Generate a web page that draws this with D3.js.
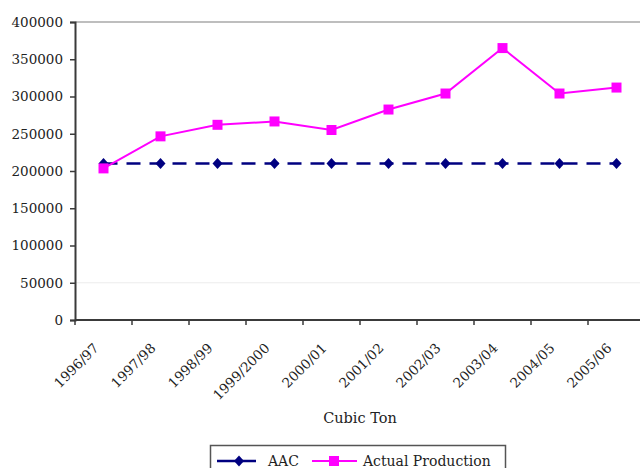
<!DOCTYPE html>
<html>
<head>
<meta charset="utf-8">
<script src="https://cdn.jsdelivr.net/npm/d3@7"></script>
<style>
  html, body { margin: 0; padding: 0; background: #fff; }
  svg { display: block; }
  text { font-family: "DejaVu Serif", serif; fill: #222; }
</style>
</head>
<body>
<svg id="chart" width="640" height="468"></svg>
<script>
// Harvest years
const years = ["1996/97", "1997/98", "1998/99", "1999/2000", "2000/01",
               "2001/02", "2002/03", "2003/04", "2004/05", "2005/06"];
// Allowable annual cut (cubic ton)
const aac = [210000, 210000, 210000, 210000, 210000, 210000, 210000, 210000, 210000, 210000];
// Actual production (cubic ton)
const actual = [203500, 246500, 262000, 266500, 255000, 282500, 304000, 365000, 304000, 312000];
const yTicks = [0, 50000, 100000, 150000, 200000, 250000, 300000, 350000, 400000];

const FONT = "\"DejaVu Serif\", serif";
const svg = d3.select("#chart");
const plotLeft = 75, plotRight = 645, plotTop = 22, plotBottom = 320;

const x = d3.scaleBand().domain(years).range([plotLeft, plotRight]);
const cx = d => x(d) + x.bandwidth() / 2;
const y = d3.scaleLinear().domain([0, 400000]).range([plotBottom, plotTop]);

// light gridline and top frame
svg.append("line").attr("x1", plotLeft).attr("x2", 640)
  .attr("y1", y(50000)).attr("y2", y(50000))
  .attr("stroke", "#ececec").attr("stroke-width", 1);
svg.append("line").attr("x1", plotLeft).attr("x2", 640)
  .attr("y1", y(400000)).attr("y2", y(400000))
  .attr("stroke", "#a8a8a8").attr("stroke-width", 1.5);

// y axis
const yAxis = svg.append("g").attr("transform", `translate(${plotLeft},0)`)
  .call(d3.axisLeft(y).tickValues(yTicks).tickFormat(d3.format("d")).tickSize(5).tickPadding(7));
yAxis.attr("font-family", FONT);
yAxis.select(".domain").attr("stroke", "#3a3a3a").attr("stroke-width", 2);
yAxis.selectAll(".tick line").attr("stroke", "#3a3a3a").attr("stroke-width", 1.5);
yAxis.selectAll(".tick text").attr("font-size", 13.5).attr("fill", "#222");

// x axis: line, ticks at category boundaries, rotated labels
svg.append("line").attr("x1", plotLeft).attr("x2", 640).attr("y1", plotBottom).attr("y2", plotBottom)
  .attr("stroke", "#3a3a3a").attr("stroke-width", 2);
svg.append("g").selectAll("line").data(years).join("line")
  .attr("x1", d => x(d)).attr("x2", d => x(d))
  .attr("y1", plotBottom).attr("y2", plotBottom + 5)
  .attr("stroke", "#3a3a3a").attr("stroke-width", 1.5);
svg.append("g").attr("font-family", FONT).selectAll("text").data(years).join("text")
  .attr("text-anchor", "end")
  .attr("font-size", 13.5)
  .attr("transform", d => `translate(${cx(d) - 4},${plotBottom + 29}) rotate(-45)`)
  .text(d => d);

// axis title
svg.append("text").attr("x", 360).attr("y", 423).attr("text-anchor", "middle")
  .attr("font-family", FONT).attr("font-size", 14.5).text("Cubic Ton");

// marker shapes
const diamondPath = "M0,-5.5L5,0L0,5.5L-5,0Z";
const squarePath = d3.symbol().type(d3.symbolSquare).size(100)();

// AAC series
const lineGen = d3.line().x((d, i) => cx(years[i])).y(d => y(d));
svg.append("path").datum(aac).attr("d", lineGen)
  .attr("fill", "none").attr("stroke", "#000080").attr("stroke-width", 2.5)
  .attr("stroke-dasharray", "14,9");
svg.append("g").selectAll("path").data(aac).join("path")
  .attr("d", diamondPath).attr("fill", "#000080")
  .attr("transform", (d, i) => `translate(${cx(years[i])},${y(d)})`);

// Actual production series
svg.append("path").datum(actual).attr("d", lineGen)
  .attr("fill", "none").attr("stroke", "#ff00ff").attr("stroke-width", 2);
svg.append("g").selectAll("path").data(actual).join("path")
  .attr("d", squarePath).attr("fill", "#ff00ff")
  .attr("transform", (d, i) => `translate(${cx(years[i])},${y(d)})`);

// legend
const lg = svg.append("g").attr("font-family", FONT);
lg.append("rect").attr("x", 210.5).attr("y", 445.5).attr("width", 295).attr("height", 40)
  .attr("fill", "#fff").attr("stroke", "#555").attr("stroke-width", 1.5);
lg.append("line").attr("x1", 217).attr("x2", 256).attr("y1", 461).attr("y2", 461)
  .attr("stroke", "#000080").attr("stroke-width", 2.5);
lg.append("path").attr("d", diamondPath).attr("fill", "#000080")
  .attr("transform", "translate(239,461)");
lg.append("text").attr("x", 268).attr("y", 466).attr("font-size", 14).text("AAC");
lg.append("line").attr("x1", 312).attr("x2", 357).attr("y1", 461).attr("y2", 461)
  .attr("stroke", "#ff00ff").attr("stroke-width", 2);
lg.append("path").attr("d", squarePath).attr("fill", "#ff00ff")
  .attr("transform", "translate(334,461)");
lg.append("text").attr("x", 363).attr("y", 466).attr("font-size", 14).text("Actual Production");
</script>
</body>
</html>
